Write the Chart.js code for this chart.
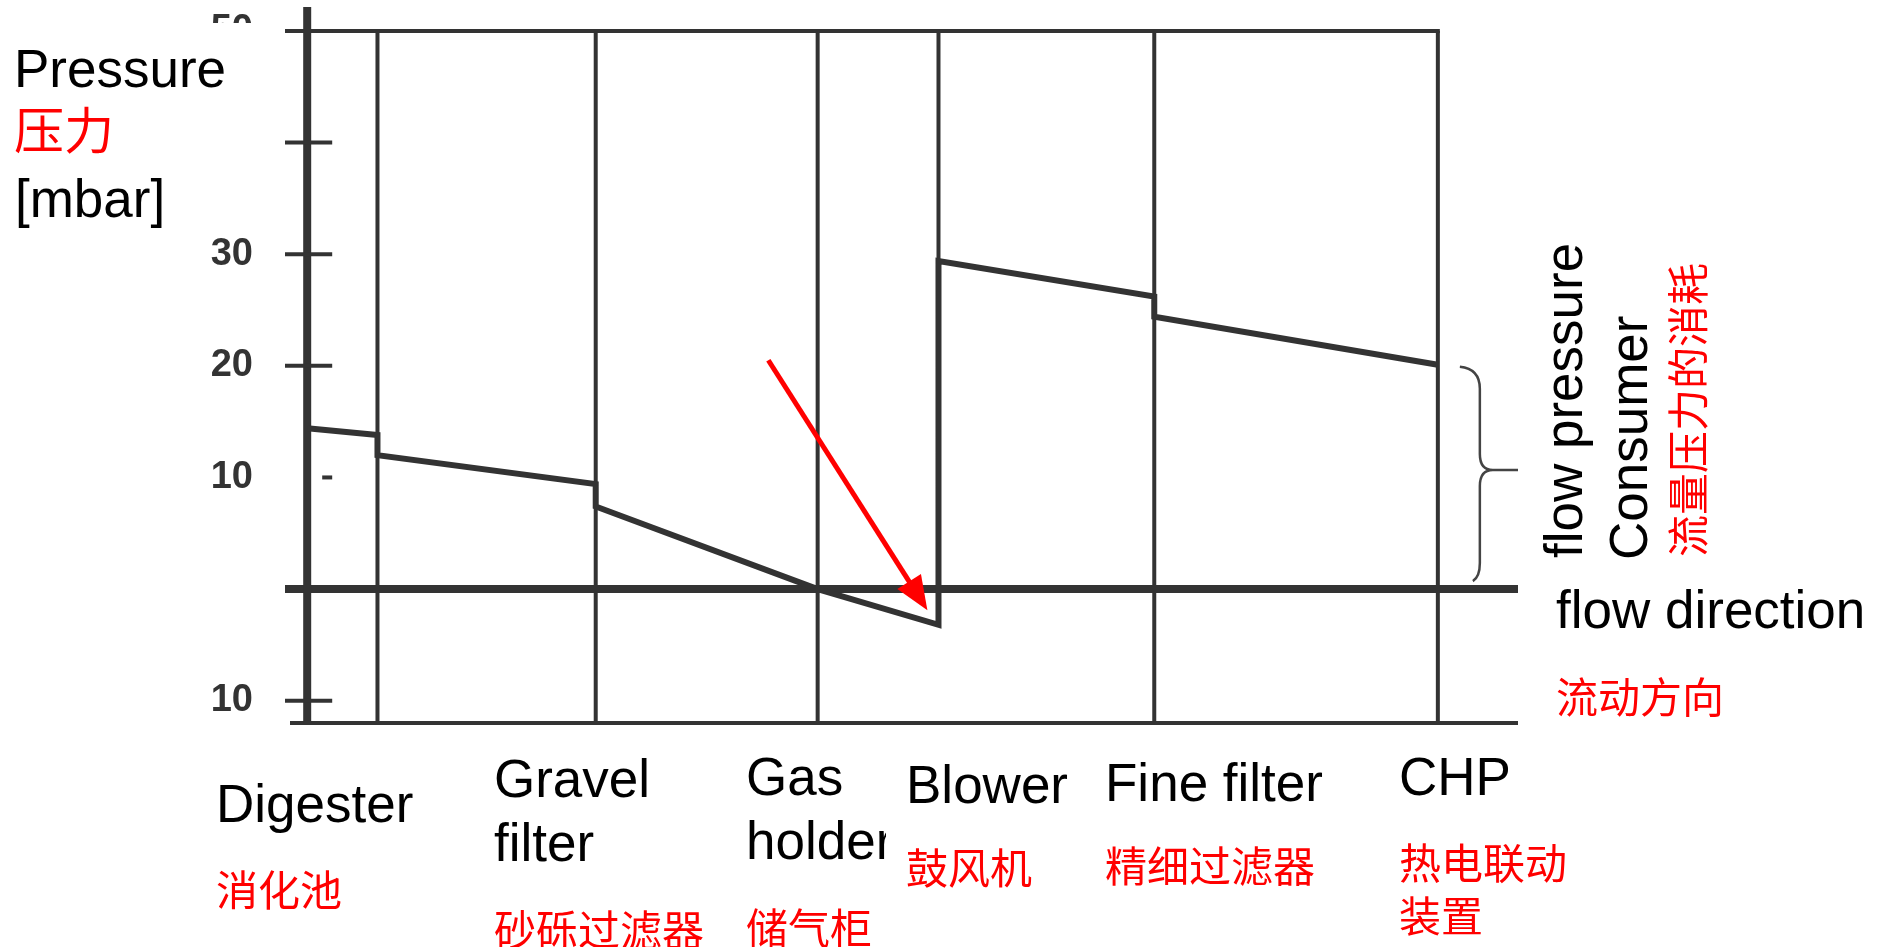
<!DOCTYPE html>
<html>
<head>
<meta charset="utf-8">
<script src="https://cdn.jsdelivr.net/npm/chart.js@4"></script>
<style>
  body { margin: 0; background: #fff; }
  #wrap { position: relative; width: 1883px; height: 947px; overflow: hidden; }
  #wrap canvas { position: absolute; left: 0; top: 0; }
  .en { position: absolute; white-space: nowrap; font-family: 'Liberation Sans', Arial, sans-serif; font-size: 53px; line-height: 53px; color: #000; }
  .zh { position: absolute; white-space: nowrap; font-family: 'Noto Sans CJK SC', sans-serif; font-size: 42px; line-height: 42px; color: #f00; }
  .big { font-size: 50px; line-height: 50px; }
  .rot { transform-origin: 0 0; transform: rotate(-90deg); }
</style>
</head>
<body>
<div id="wrap">
  <canvas id="chart" width="1883" height="947"></canvas>
</div>
<script>
// Stationen entlang der Gasstrecke (Trennlinien im Diagramm, x in % der Strecke)
const stationX = [1.8, 7.5, 25.2, 43.2, 53.0, 70.5, 93.5];
const stationEn = [['Digester'], ['Gravel', 'filter'], ['Gas', 'holder'], ['Blower'], ['Fine filter'], ['CHP']];
const stationZh = [['消化池'], ['砂砾过滤器'], ['储气柜'], ['鼓风机'], ['精细过滤器'], ['热电联动', '装置']];

// Druckverlauf [mbar]
const profileX = [1.8, 7.5, 7.5, 25.2, 25.2, 43.2, 53.0, 53.0, 70.5, 70.5, 93.5];
const profileP = [14.4, 13.8, 12.0, 9.4, 7.4, 0, -3.2, 29.4, 26.2, 24.4, 20.1];

// y-Achse
const yTicks = [-10, 0, 10, 20, 30, 40, 50];
const yTickLabels = ['10', '', '10', '20', '30', '40', '50'];

// roter Pfeil (Start / Spitze)
const arrowFrom = [39.2, 20.5];
const arrowTo = [52.1, -1.9];

const xMin = 0, xMax = 100, yMin = -12, yMax = 50;
const blowerIdx = 4;

function line(ctx, x1, y1, x2, y2) {
  ctx.beginPath();
  ctx.moveTo(x1, y1);
  ctx.lineTo(x2, y2);
  ctx.stroke();
}

// zeichnet Rahmen, Nulllinie, Achse, Pfeil und Klammer
const diagram = {
  id: 'diagram',
  beforeDatasetsDraw(chart) {
    const { ctx, scales: { x, y } } = chart;
    const top = y.getPixelForValue(yMax);
    const bottom = y.getPixelForValue(yMin);
    const left = x.getPixelForValue(xMin);
    const right = x.getPixelForValue(xMax);
    const y0 = y.getPixelForValue(0);
    const axisX = x.getPixelForValue(stationX[0]);
    ctx.save();
    ctx.strokeStyle = '#333';
    ctx.lineWidth = 4;
    stationX.forEach((sx, i) => {
      if (i === 0) return;
      const px = x.getPixelForValue(sx);
      const endY = i === blowerIdx ? y.getPixelForValue(Math.min(...profileP)) : bottom;
      line(ctx, px, top, px, endY);
    });
    line(ctx, left, top, x.getPixelForValue(stationX[stationX.length - 1]) + 2, top);
    line(ctx, left + 5, bottom, right, bottom);
    ctx.lineWidth = 8;
    line(ctx, left, y0, right, y0);
    line(ctx, axisX, top - 24, axisX, bottom);
    ctx.lineWidth = 4;
    yTicks.forEach(v => {
      if (v === 0) return;
      const py = y.getPixelForValue(v);
      line(ctx, v === 10 ? axisX + 15 : left, py, axisX + 25, py);
    });
    ctx.restore();
  },
  afterDatasetsDraw(chart) {
    const { ctx, scales: { x, y } } = chart;
    ctx.save();
    // Pfeil
    const fx = x.getPixelForValue(arrowFrom[0]), fy = y.getPixelForValue(arrowFrom[1]);
    const tx = x.getPixelForValue(arrowTo[0]), ty = y.getPixelForValue(arrowTo[1]);
    const ang = Math.atan2(ty - fy, tx - fx);
    const headLen = 34, headW = 14;
    const bx = tx - headLen * Math.cos(ang), by = ty - headLen * Math.sin(ang);
    ctx.strokeStyle = '#ff0000';
    ctx.fillStyle = '#ff0000';
    ctx.lineWidth = 5;
    line(ctx, fx, fy, bx + 4 * Math.cos(ang), by + 4 * Math.sin(ang));
    ctx.beginPath();
    ctx.moveTo(tx, ty);
    ctx.lineTo(bx - headW * Math.sin(ang), by + headW * Math.cos(ang));
    ctx.lineTo(bx + headW * Math.sin(ang), by - headW * Math.cos(ang));
    ctx.closePath();
    ctx.fill();

    // geschweifte Klammer: Fliessdruck am Verbraucher
    const x0 = x.getPixelForValue(stationX[stationX.length - 1]);
    const yTop = y.getPixelForValue(profileP[profileP.length - 1]);
    const yBot = y.getPixelForValue(0) - 8;
    const yMid = (yTop + yBot) / 2 - 3;
    const xv = x0 + 42;
    ctx.strokeStyle = '#444';
    ctx.lineWidth = 2.5;
    ctx.beginPath();
    ctx.moveTo(x0 + 22, yTop + 2);
    ctx.quadraticCurveTo(xv, yTop + 4, xv, yTop + 24);
    ctx.lineTo(xv, yMid - 16);
    ctx.quadraticCurveTo(xv, yMid, x0 + 55, yMid);
    ctx.lineTo(x.getPixelForValue(xMax), yMid);
    ctx.moveTo(x0 + 55, yMid);
    ctx.quadraticCurveTo(xv, yMid, xv, yMid + 16);
    ctx.lineTo(xv, yBot - 18);
    ctx.quadraticCurveTo(xv, yBot - 4, x0 + 35, yBot);
    ctx.stroke();

    // weisses Feld hinter der Achsenbeschriftung
    ctx.fillStyle = '#fff';
    ctx.fillRect(0, 23, 275, 212);
    ctx.restore();
  }
};

const chart = new Chart(document.getElementById('chart'), {
  type: 'line',
  data: {
    datasets: [{
      data: profileX.map((px, i) => ({ x: px, y: profileP[i] })),
      borderColor: '#333',
      borderWidth: 6,
      borderJoinStyle: 'miter',
      pointRadius: 0,
      tension: 0,
      fill: false
    }]
  },
  options: {
    responsive: false,
    animation: false,
    devicePixelRatio: 1,
    layout: { padding: { left: 0, top: 31, right: 365, bottom: 224 } },
    plugins: { legend: { display: false }, tooltip: { enabled: false } },
    scales: {
      x: { type: 'linear', min: xMin, max: xMax, display: false },
      y: {
        type: 'linear',
        min: yMin,
        max: yMax,
        afterFit: s => { s.width = 285; s.paddingTop = 0; s.paddingBottom = 0; },
        afterBuildTicks: s => { s.ticks = yTicks.map(v => ({ value: v })); },
        grid: { display: false, drawTicks: false },
        border: { display: false },
        ticks: {
          padding: 32,
          color: '#333',
          font: { family: "'Liberation Sans Narrow', 'Liberation Sans', sans-serif", size: 38, weight: 'bold' },
          callback: (v, i) => yTickLabels[i]
        }
      }
    }
  },
  plugins: [diagram]
});

// Beschriftungen als Text
const wrap = document.getElementById('wrap');
function addText(cls, text, left, top, extra) {
  const d = document.createElement('div');
  d.className = cls;
  d.textContent = text;
  d.style.left = left + 'px';
  d.style.top = top + 'px';
  if (extra) Object.assign(d.style, extra);
  wrap.appendChild(d);
}

const enLeft = [216, 494, 746, 906, 1105, 1399];
const enTop = [[777], [752, 816], [750, 814], [758], [756], [750]];
const zhLeft = [216, 494, 746, 906, 1105, 1399];
const zhTop = [[867], [907], [905], [845], [843], [840, 893]];

stationEn.forEach((lines, i) => {
  lines.forEach((t, j) => {
    const extra = (i === 2 && j === 1) ? { width: '140px', overflow: 'hidden' } : null;
    addText('en', t, enLeft[i], enTop[i][j], extra);
  });
});
stationZh.forEach((lines, i) => {
  lines.forEach((t, j) => addText('zh', t, zhLeft[i], zhTop[i][j]));
});

addText('en', 'Pressure', 14, 42);
addText('zh big', '压力', 14, 102);
addText('en', '[mbar]', 15, 172);

addText('en rot', 'flow pressure', 1537, 558);
addText('en rot', 'Consumer', 1602, 560);
addText('zh rot', '流量压力的消耗', 1665, 557);
addText('en', 'flow direction', 1556, 583);
addText('zh', '流动方向', 1556, 674);
</script>
</body>
</html>
